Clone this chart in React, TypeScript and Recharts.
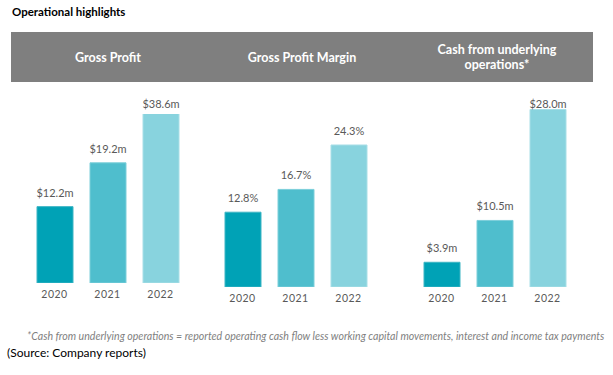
import React from 'react';
import { BarChart, Bar, XAxis, YAxis, Cell, LabelList } from 'recharts';

const YEARS = ['2020', '2021', '2022'];
const GROSS_PROFIT = [12.2, 19.2, 38.6];
const GROSS_MARGIN = [12.8, 16.7, 24.3];
const CASH_OPS = [3.9, 10.5, 28.0];

const FILLS = ['#00a2b6', '#4fbecd', '#88d3de'];
const STROKES = ['#3db5c4', '#7ccfda', '#a8dfe7'];

const FONT = 'Lato, "Open Sans", sans-serif';
const CHART_TOP = 90;
const CHART_H = 220;

const toRows = (vals: number[]) => YEARS.map((year, i) => ({ year, value: vals[i] }));

const money = (v: number) => `$${v.toFixed(1)}m`;
const pct = (v: number) => `${v.toFixed(1)}%`;

interface PanelProps {
  values: number[];
  left: number;
  max: number;
  marginTop: number;
  marginBottom: number;
  fmt: (v: number) => string;
}

const Panel: React.FC<PanelProps> = ({ values, left, max, marginTop, marginBottom, fmt }) => {
  const renderLabel = (props: any) => {
    const vb = props.viewBox || props;
    const cx = vb.x + vb.width / 2;
    // keep label inside the chart box when the bar runs to the top
    const y = Math.max(Math.max(vb.y, marginTop) - 10, 18);
    return (
      <text x={cx} y={y} textAnchor="middle" fill="#595959" fontSize={11} fontFamily={FONT}>
        {fmt(Number(props.value))}
      </text>
    );
  };

  return (
    <div style={{ position: 'absolute', left, top: CHART_TOP }}>
      <BarChart
        width={159}
        height={CHART_H}
        data={toRows(values)}
        margin={{ top: marginTop, right: 0, left: 0, bottom: marginBottom }}
        barSize={36}
      >
        <XAxis
          dataKey="year"
          axisLine={false}
          tickLine={false}
          height={20}
          interval={0}
          tick={{ fontSize: 10.5, fill: '#595959', fontFamily: FONT, letterSpacing: 0.5 }}
        />
        <YAxis hide domain={[0, max]} allowDataOverflow />
        <Bar dataKey="value" isAnimationActive={false}>
          {values.map((_, i) => (
            <Cell key={`c-${i}`} fill={FILLS[i]} stroke={STROKES[i]} strokeWidth={1} />
          ))}
          <LabelList dataKey="value" content={renderLabel} />
        </Bar>
      </BarChart>
    </div>
  );
};

const headerText: React.CSSProperties = {
  position: 'absolute',
  color: '#ffffff',
  fontWeight: 700,
  fontSize: 12.5,
  fontFamily: FONT,
  textAlign: 'center',
  lineHeight: '15px',
};

export default function App() {
  return (
    <div
      style={{
        position: 'absolute',
        left: 0,
        top: 0,
        width: 613,
        height: 375,
        background: '#ffffff',
        overflow: 'hidden',
        fontFamily: FONT,
      }}
    >
      <div style={{ position: 'absolute', left: 12, top: 5, fontSize: 11.5, fontWeight: 700, color: '#000' }}>
        Operational highlights
      </div>

      <div style={{ position: 'absolute', left: 11, top: 32, width: 582, height: 50, background: '#7f7f7f' }} />
      <div style={{ ...headerText, left: 28, width: 160, top: 50 }}>Gross Profit</div>
      <div style={{ ...headerText, left: 222, width: 160, top: 50 }}>Gross Profit Margin</div>
      <div style={{ ...headerText, left: 417, width: 160, top: 42 }}>
        Cash from underlying
        <br />
        operations*
      </div>

      <Panel values={GROSS_PROFIT} left={28} max={27} marginTop={24} marginBottom={7} fmt={money} />
      <Panel values={GROSS_MARGIN} left={216} max={32} marginTop={10} marginBottom={3} fmt={pct} />
      <Panel values={CASH_OPS} left={415} max={29.5} marginTop={10} marginBottom={3} fmt={money} />

      <div
        style={{
          position: 'absolute',
          left: 27,
          top: 330,
          fontSize: 10.6,
          fontStyle: 'italic',
          color: '#7f7f7f',
          whiteSpace: 'nowrap',
        }}
      >
        *Cash from underlying operations = reported operating cash flow less working capital movements, interest and income tax payments
      </div>
      <div style={{ position: 'absolute', left: 7, top: 345, fontSize: 12, color: '#000', whiteSpace: 'nowrap' }}>
        (Source: Company reports)
      </div>
    </div>
  );
}
